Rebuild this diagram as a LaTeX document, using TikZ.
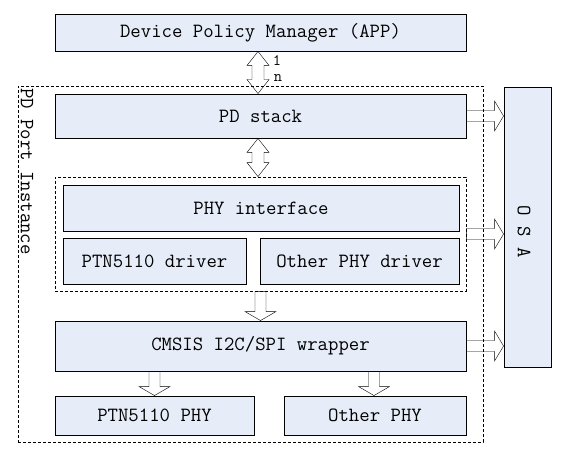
\documentclass[tikz,border=0pt]{standalone}
\usepackage{fontspec}
\usetikzlibrary{calc}
\definecolor{boxfill}{RGB}{230,237,248}
\newcommand{\mainsz}{\ttfamily\fontsize{20.2}{22}\selectfont}
\tikzset{
  blk/.style={draw=black, fill=boxfill, line width=0.9pt, inner sep=0pt,
    font=\mainsz},
  dashbox/.style={draw=black, line width=0.8pt, dash pattern=on 3pt off 2pt, inner sep=0pt},
  fatline/.style={draw=black, fill=boxfill, line width=0.9pt, line join=miter},
  vfat/.style={fatline, to path={let \p1=(\tikztostart), \p2=(\tikztotarget) in
    (\x2-5.5pt,\y1) -- (\x2-5.5pt,\y2+9pt) -- (\x2-15.5pt,\y2+9pt) -- (\x2,\y2)
    -- (\x2+15.5pt,\y2+9pt) -- (\x2+5.5pt,\y2+9pt) -- (\x2+5.5pt,\y1) -- cycle}},
  hfat/.style={fatline, to path={let \p1=(\tikztostart), \p2=(\tikztotarget) in
    (\x1,\y1+5.5pt) -- (\x2-9pt,\y1+5.5pt) -- (\x2-9pt,\y1+15pt) -- (\x2,\y1)
    -- (\x2-9pt,\y1-15pt) -- (\x2-9pt,\y1-5.5pt) -- (\x1,\y1-5.5pt) -- cycle}},
  dfat/.style={fatline, to path={let \p1=(\tikztostart), \p2=(\tikztotarget) in
    (\x1,\y1) -- (\x1+11pt,\y1-14pt) -- (\x1+6pt,\y1-14pt) -- (\x1+6pt,\y2+14pt)
    -- (\x1+11pt,\y2+14pt) -- (\x1,\y2) -- (\x1-11pt,\y2+14pt) -- (\x1-6pt,\y2+14pt)
    -- (\x1-6pt,\y1-14pt) -- (\x1-11pt,\y1-14pt) -- cycle}},
  lbl/.style={inner sep=0pt, font=\ttfamily\fontsize{16}{18}\selectfont},
}
\begin{document}
\begin{tikzpicture}[x=1pt,y=-1pt]
\useasboundingbox (0,0) rectangle (562,462);
% boxes
\node[blk, minimum width=411pt, minimum height=37pt] (dpm) at (260.5,32.5) {Device Policy Manager (APP)};
\node[blk, minimum width=411pt, minimum height=44pt] (pd) at (260.5,116) {PD stack};
\node[dashbox, minimum width=411pt, minimum height=114pt] (inner) at (260.5,234) {};
\node[blk, minimum width=396pt, minimum height=46pt] (phyif) at (261,208) {PHY interface};
\node[blk, minimum width=183pt, minimum height=46pt] (ptnd) at (154.5,261) {PTN5110 driver};
\node[blk, minimum width=199pt, minimum height=46pt] (othd) at (359.5,261) {Other PHY driver};
\node[blk, minimum width=411pt, minimum height=50pt] (cmsis) at (260.5,346) {CMSIS I2C/SPI wrapper};
\node[blk, minimum width=199pt, minimum height=39pt] (ptnphy) at (154.5,415.5) {PTN5110 PHY};
\node[blk, minimum width=182pt, minimum height=39pt] (othphy) at (375,415.5) {Other PHY};
\node[blk, minimum width=47pt, minimum height=280pt] (osa) at (527.5,227) {};
\node[inner sep=0pt, rotate=-90, font=\mainsz] (osatext) at (524,232) {O S A};
% arrows
\draw ([xshift=-2.5pt]dpm.south) to[dfat] ([xshift=-2.5pt]pd.north);
\draw ([xshift=-2.5pt]pd.south) to[dfat] ([xshift=-2.5pt]inner.north);
\draw (inner.south) to[vfat] (cmsis.north);
\draw (cmsis.south -| ptnphy.north) to[vfat] (ptnphy.north);
\draw (cmsis.south -| othphy.north) to[vfat] ([xshift=-1pt]othphy.north);
\draw (pd.east) to[hfat] (osa.west);
\draw (inner.east) to[hfat] (osa.west);
\draw (cmsis.east) to[hfat] (osa.west);
% labels 1 / n
\node[lbl] (one) at (277,61) {1};
\node[lbl] (enn) at (278,78) {n};
% outer dashed box
\node[dashbox, minimum width=465pt, minimum height=356pt] (outer) at (250.5,264) {};
\node[inner sep=0pt, rotate=-90, anchor=west, font=\mainsz] (pdport) at (27,88) {PD Port Instance};
\end{tikzpicture}
\end{document}
